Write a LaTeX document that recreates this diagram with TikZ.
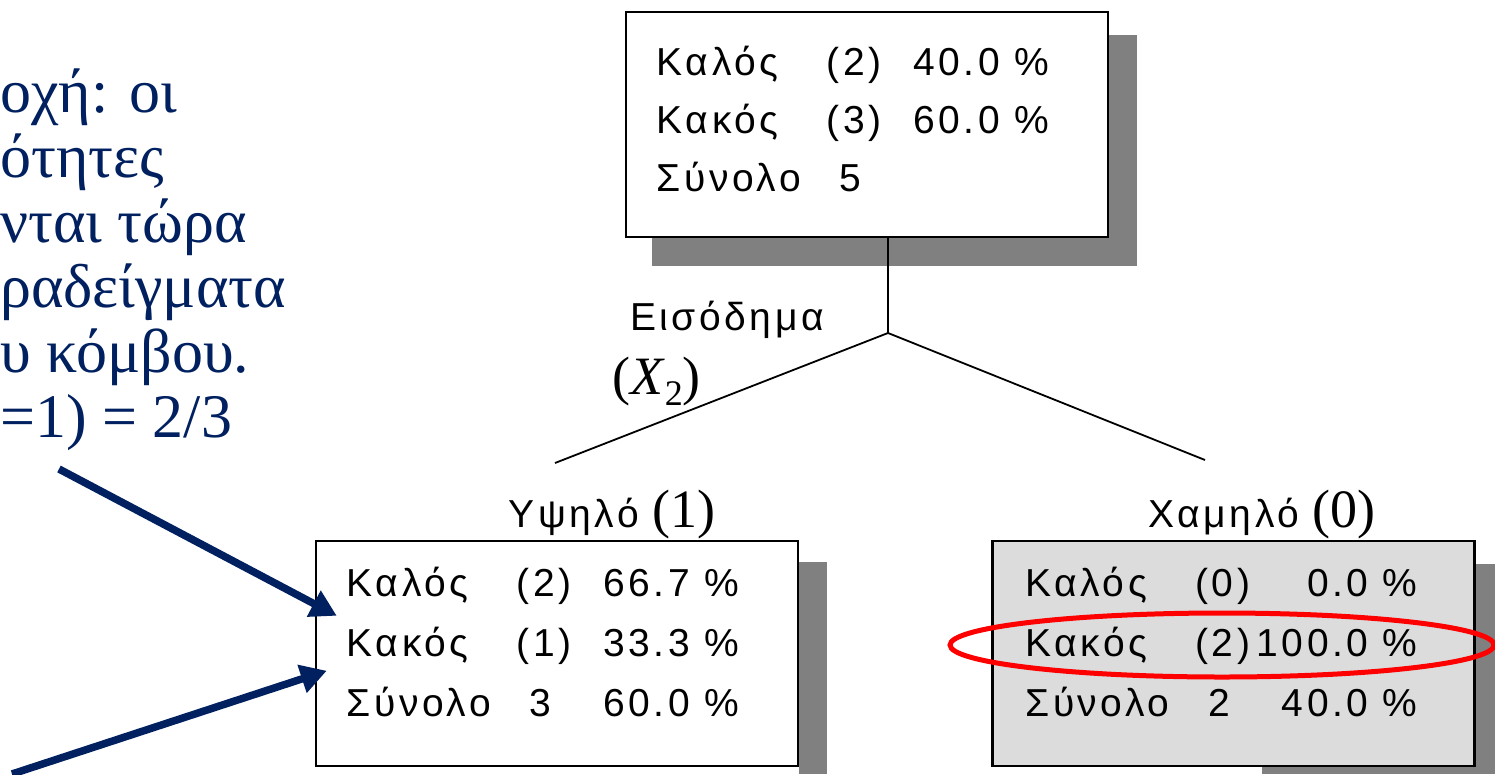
\documentclass[tikz,border=0pt]{standalone}
\usepackage{fontspec}
\setmainfont{Liberation Serif}
\newfontfamily\pixfont[LetterSpace=9]{Liberation Sans}
\usetikzlibrary{positioning,calc,arrows.meta,backgrounds,shapes.geometric}
\definecolor{navy}{RGB}{0,32,96}
\definecolor{boxshadow}{RGB}{128,128,128}
\definecolor{boxgray}{RGB}{220,220,220}
\tikzstyle{treebox}=[rectangle,draw=black,line width=2.5pt,fill=white,minimum width=482pt,minimum height=225pt,inner sep=0pt]
\tikzstyle{statline}=[anchor=base west,inner sep=0pt,font=\pixfont\fontsize{39}{39}\selectfont]
\tikzstyle{branch}=[draw,line width=1.8pt]
\tikzstyle{pointer}=[draw=navy,line width=7.5pt,-{Triangle[length=26pt,width=28pt]}]
\tikzstyle{note}=[anchor=base west,inner sep=0pt,text=navy,font=\fontsize{62}{65}\selectfont]
\tikzstyle{branchlabel}=[anchor=base,inner sep=0pt,font=\fontsize{54}{54}\selectfont]
\newcommand{\statcells}[3]{\makebox[170pt][l]{#1}\makebox[222pt][l]{#2\hfill #3}}

\begin{document}
\begin{tikzpicture}[x=1pt,y=-1pt]
\useasboundingbox (0,0) rectangle (1495,774);

    % the three nodes of the tree
    \node[treebox] (rootnode) at (867,124.5) {};
    \node[treebox] (highnode) at (557,653.5) {};
    \node[treebox,fill=boxgray] (lownode) at (1233.5,653.5) {};

    % shadows behind the boxes
    \begin{scope}[on background layer]
    \fill[boxshadow] ($(rootnode.north west)+(27,24)$) rectangle ($(rootnode.south east)+(28,28)$);
    \fill[boxshadow] ($(highnode.north east)+(0,22)$) rectangle (827,774);
    \fill[boxshadow] ($(lownode.south west)+(271,-203)$) rectangle (1495,774);
    \end{scope}

    % counts inside the boxes
    \foreach \a/\b/\c [count=\i] in {Καλός/(2)/40.0 \%, Κακός/(3)/60.0 \%, Σύνολο/\phantom{(}5/{}}
        \node[statline] (root\i) at ($(rootnode.north west)+(32,7+58*\i)$) {\statcells{\a}{\b}{\c}};
    \foreach \a/\b/\c [count=\i] in {Καλός/(2)/66.7 \%, Κακός/(1)/33.3 \%, Σύνολο/\phantom{(}3/60.0 \%}
        \node[statline] (high\i) at ($(highnode.north west)+(32,60*\i-3)$) {\statcells{\a}{\b}{\c}};
    \foreach \a/\b/\c [count=\i] in {Καλός/(0)/0.0 \%, Κακός/(2)/100.0 \%, Σύνολο/\phantom{(}2/40.0 \%}
        \node[statline] (low\i) at ($(lownode.north west)+(34,60*\i-3)$) {\statcells{\a}{\b}{\c}};

    % the split on income
    \coordinate (split) at (888,333);
    \coordinate (highend) at (555,463);
    \coordinate (lowend) at (1205,460);
    \draw[branch] (rootnode.south -| split) -- (split);
    \draw[branch] (split) -- (highend);
    \draw[branch] (split) -- (lowend);
    \node[statline] (income) at (630,330) {Εισόδημα};
    \node[anchor=base west,inner sep=0pt,font=\fontsize{54}{54}\selectfont] (incomevar) at (612,394) {(\textit{X}\raisebox{-0.22em}{\fontsize{36}{36}\selectfont 2})};

    \node[branchlabel] (highlabel) at (612,527) {{\pixfont\fontsize{39}{39}\selectfont Υψηλό} (1)};
    \node[branchlabel] (lowlabel) at (1262,527) {{\pixfont\fontsize{39}{39}\selectfont Χαμηλό} (0)};

    % highlighted row
    \node[ellipse,draw=red,line width=5pt,minimum width=544pt,minimum height=64pt] (ring) at (1222,645) {};

    % note on the left, cut at the margin
    \foreach \txt [count=\i] in {οχή: οι, ότητες, νται τώρα, ραδείγματα, υ κόμβου., =1) = 2/3}
        \node[note] (note\i) at (0,47+65*\i) {\txt};

    % arrows into the box
    \coordinate (tailA) at (59,469);
    \coordinate (tailB) at (12,774);
    \coordinate (tipA) at ($(highnode.north west)+(22,76)$);
    \coordinate (tipB) at ($(highnode.north west)+(12,131)$);
    \draw[pointer] (tailA) -- (tipA);
    \draw[pointer] (tailB) -- (tipB);

\end{tikzpicture}
\end{document}
